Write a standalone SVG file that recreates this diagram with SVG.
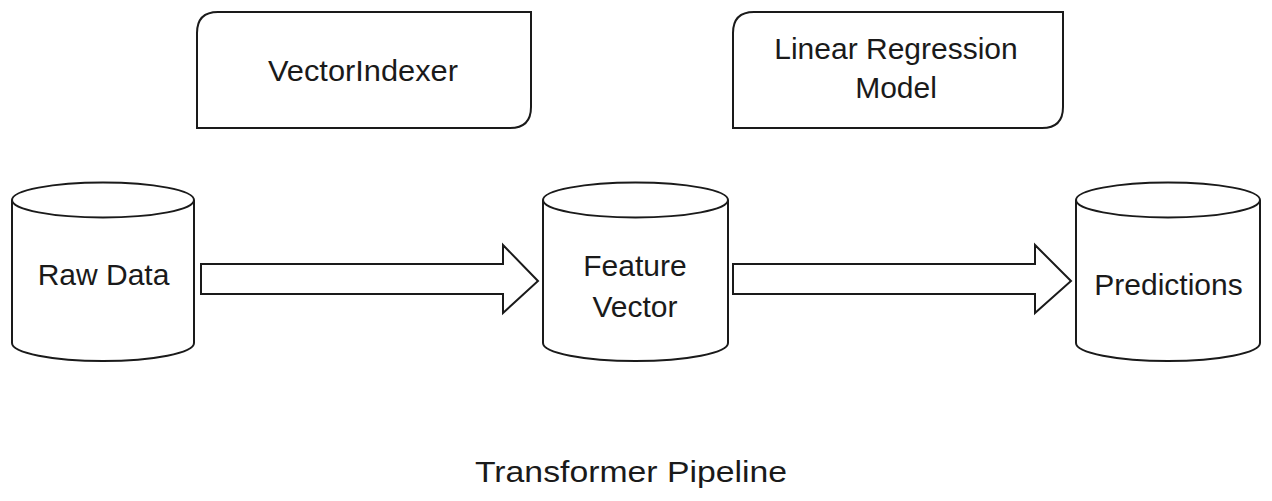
<svg xmlns="http://www.w3.org/2000/svg" width="1272" height="501" viewBox="0 0 1272 501">
<style>
.shape{fill:#fff;stroke:#1a1a1a;stroke-width:2;stroke-linejoin:miter}
.t{font-family:"Liberation Sans",Arial,sans-serif;font-size:30px;fill:#1a1a1a;text-anchor:middle}
</style>
<rect width="1272" height="501" fill="#fff"/>
<g id="vectorindexer">
<path class="shape" d="M197,128 L197,33 Q197,12 218,12 L531,12 L531,107 Q531,128 510,128 Z"/>
<text class="t" x="363" y="81" font-size="31" textLength="190" lengthAdjust="spacingAndGlyphs">VectorIndexer</text>
</g>
<g id="linear-regression">
<path class="shape" d="M733,128 L733,33 Q733,12 754,12 L1063,12 L1063,107 Q1063,128 1042,128 Z"/>
<text class="t" x="896" y="59">Linear Regression</text>
<text class="t" x="896" y="98">Model</text>
</g>
<g id="raw-data">
<path class="shape" d="M12,200 L12,343 A91,18 0 0 0 194,343 L194,200"/>
<ellipse class="shape" cx="103" cy="200" rx="91" ry="17.5"/>
<text class="t" x="103.5" y="285">Raw Data</text>
</g>
<g id="feature-vector">
<path class="shape" d="M543,200 L543,343 A92.5,18 0 0 0 728,343 L728,200"/>
<ellipse class="shape" cx="635.5" cy="200" rx="92.5" ry="17.5"/>
<text class="t" x="635" y="276">Feature</text>
<text class="t" x="635" y="317">Vector</text>
</g>
<g id="predictions">
<path class="shape" d="M1076,200 L1076,343 A92,18 0 0 0 1260,343 L1260,200"/>
<ellipse class="shape" cx="1168" cy="200" rx="92" ry="17.5"/>
<text class="t" x="1168.5" y="295">Predictions</text>
</g>
<g id="connectors">
<path class="shape" d="M201,264 L503,264 L503,245 L538,281 L503,313 L503,294 L201,294 Z"/>
<path class="shape" d="M733,264 L1035,264 L1035,245 L1071,281 L1035,313 L1035,294 L733,294 Z"/>
</g>
<text class="t" x="631" y="482" font-size="37" textLength="312" lengthAdjust="spacingAndGlyphs">Transformer Pipeline</text>
</svg>
